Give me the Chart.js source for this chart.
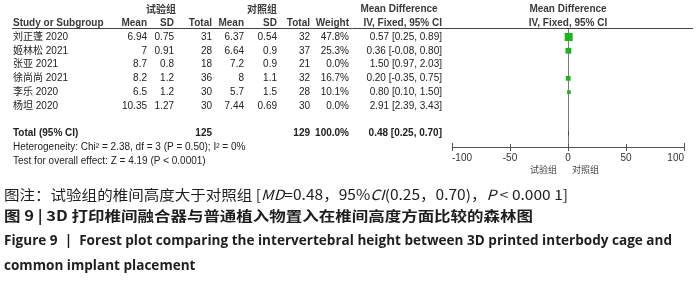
<!DOCTYPE html>
<html><head><meta charset="utf-8">
<script src="https://cdn.jsdelivr.net/npm/chart.js@4/dist/chart.umd.min.js"></script>
<style>html,body{margin:0;padding:0;background:#fff;}canvas{display:block}</style>
</head><body>
<canvas id="c" width="700" height="284"></canvas>
<script>
// ---- data ----
const studies   = ['刘正蓬 2020','姬林松 2021','张亚 2021','徐尚尚 2021','李乐 2020','杨坦 2020'];
const expMean   = [6.94, 7, 8.7, 8.2, 6.5, 10.35];
const expSD     = [0.75, 0.91, 0.8, 1.2, 1.2, 1.27];
const expTotal  = [31, 28, 18, 36, 30, 30];
const ctlMean   = [6.37, 6.64, 7.2, 8, 5.7, 7.44];
const ctlSD     = [0.54, 0.9, 0.9, 1.1, 1.5, 0.69];
const ctlTotal  = [32, 37, 21, 32, 28, 30];
const weight    = [47.8, 25.3, 0.0, 16.7, 10.1, 0.0];
const md        = [0.57, 0.36, 1.50, 0.20, 0.80, 2.91];
const ciLow     = [0.25, -0.08, 0.97, -0.35, 0.10, 2.39];
const ciHigh    = [0.89, 0.80, 2.03, 0.75, 1.50, 3.43];
const totalExpN = 125, totalCtlN = 129, totalWeight = 100.0;
const totalMD = 0.48, totalLow = 0.25, totalHigh = 0.70;
const groupLabels = ['试验组','对照组'];
const xTicks = [-100, -50, 0, 50, 100];
const heterogeneityText = 'Heterogeneity: Chi² = 2.38, df = 3 (P = 0.50); I² = 0%';
const overallText = 'Test for overall effect: Z = 4.19 (P < 0.0001)';
const captionNote = [['图注：试验组的椎间高度大于对照组 [',''],['MD','italic '],['=0.48，95%',''],['CI','italic '],['(0.25，0.70)，',''],['P','italic '],[' < 0.000 1]','']];
const captionCN = '图 9 | 3D 打印椎间融合器与普通植入物置入在椎间高度方面比较的森林图';
const captionEN1 = 'Figure 9  |  Forest plot comparing the intervertebral height between 3D printed interbody cage and';
const captionEN2 = 'common implant placement';

const GREEN = '#1db41d';
const SANS = '"Liberation Sans", Arial, sans-serif';
const CJK = '"Liberation Sans", "Noto Sans CJK SC", sans-serif';

function fmt2(v){ return v.toFixed(2); }
function ciText(m,l,h){ return fmt2(m)+' ['+fmt2(l)+', '+fmt2(h)+']'; }

const tablePlugin = {
  id: 'forestTable',
  afterDatasetsDraw(chart){
    const ctx = chart.ctx, xs = chart.scales.x, ys = chart.scales.y;
    const Y = v => ys.getPixelForValue(v);
    ctx.save();
    // CI lines (only for studies that carry weight)
    ctx.strokeStyle = GREEN; ctx.lineWidth = 1;
    for (let i=0;i<studies.length;i++){
      if (weight[i] <= 0) continue;
      ctx.beginPath();
      ctx.moveTo(xs.getPixelForValue(ciLow[i]), Y(i)+0.5);
      ctx.lineTo(xs.getPixelForValue(ciHigh[i]), Y(i)+0.5);
      ctx.stroke();
    }
    // diamond
    const ty = Y(studies.length+1);
    ctx.fillStyle = '#000';
    ctx.beginPath();
    ctx.moveTo(xs.getPixelForValue(totalLow), ty);
    ctx.lineTo(xs.getPixelForValue(totalMD), ty-4);
    ctx.lineTo(xs.getPixelForValue(totalHigh), ty);
    ctx.lineTo(xs.getPixelForValue(totalMD), ty+4);
    ctx.closePath(); ctx.fill();
    ctx.restore();
  },
  afterDraw(chart){
    const ctx = chart.ctx, xs = chart.scales.x, ys = chart.scales.y;
    const Y = v => ys.getPixelForValue(v);
    const X0 = xs.getPixelForValue(0);
    ctx.save();
    ctx.textBaseline = 'middle';
    // upward tick parts
    ctx.strokeStyle = '#555'; ctx.lineWidth = 1;
    const ab = chart.chartArea.bottom;
    xTicks.forEach((t,k)=>{
      const px = Math.round(xs.getPixelForValue(t))+0.5;
      const up = (k===0||k===xTicks.length-1) ? 4 : 3;
      ctx.beginPath(); ctx.moveTo(px, ab-up); ctx.lineTo(px, ab); ctx.stroke();
    });
    // header line
    const hy = Math.round(chart.chartArea.top)+0.5;
    ctx.strokeStyle = '#444';
    ctx.beginPath(); ctx.moveTo(12, hy); ctx.lineTo(693, hy); ctx.stroke();

    // headers
    ctx.fillStyle = '#3a3a3a';
    ctx.font = 'bold 10px "Noto Sans CJK SC", sans-serif';
    ctx.textAlign = 'center';
    ctx.fillText(groupLabels[0], 161, Y(-2));
    ctx.fillText(groupLabels[1], 262, Y(-2));
    ctx.font = 'bold 10px '+SANS;
    ctx.fillText('Mean Difference', 399, Y(-2));
    ctx.fillText('Mean Difference', X0, Y(-2));
    ctx.fillText('IV, Fixed, 95% CI', X0, Y(-1));
    ctx.textAlign = 'left';
    ctx.fillText('Study or Subgroup', 13, Y(-1));
    ctx.textAlign = 'right';
    const cols = [147, 174, 212, 244, 277, 310, 349, 442];
    const heads = ['Mean','SD','Total','Mean','SD','Total','Weight','IV, Fixed, 95% CI'];
    heads.forEach((h,k)=>ctx.fillText(h, cols[k], Y(-1)));

    // rows
    ctx.fillStyle = '#222';
    for (let i=0;i<studies.length;i++){
      const y = Y(i);
      ctx.textAlign = 'left';
      ctx.font = '10px '+CJK;
      ctx.fillText(studies[i], 13, y);
      ctx.textAlign = 'right';
      ctx.font = '10px '+SANS;
      const vals = [String(expMean[i]), String(expSD[i]), String(expTotal[i]),
                    String(ctlMean[i]), String(ctlSD[i]), String(ctlTotal[i]),
                    weight[i].toFixed(1)+'%', ciText(md[i],ciLow[i],ciHigh[i])];
      vals.forEach((v,k)=>ctx.fillText(v, cols[k], y));
    }
    // total row
    const ty = Y(studies.length+1);
    ctx.font = 'bold 10px '+SANS;
    ctx.textAlign = 'left';
    ctx.fillText('Total (95% CI)', 13, ty);
    ctx.textAlign = 'right';
    ctx.fillText(String(totalExpN), cols[2], ty);
    ctx.fillText(String(totalCtlN), cols[5], ty);
    ctx.fillText(totalWeight.toFixed(1)+'%', cols[6], ty);
    ctx.fillText(ciText(totalMD,totalLow,totalHigh), cols[7], ty);
    ctx.font = '10px '+SANS;
    ctx.textAlign = 'left';
    ctx.fillText(heterogeneityText, 13, Y(studies.length+2));
    ctx.fillText(overallText, 13, Y(studies.length+3));

    // axis side labels
    ctx.fillStyle = '#444';
    ctx.font = '9px "Noto Sans CJK SC", sans-serif';
    ctx.textAlign = 'right';
    ctx.fillText(groupLabels[0], X0-11, 170);
    ctx.textAlign = 'left';
    ctx.fillText(groupLabels[1], X0+4, 170);

    // captions
    ctx.fillStyle = '#1e1e1e';
    ctx.textAlign = 'left';
    function drawFit(segs, x, y, target, size, weightStr, family){
      let total = 0;
      segs.forEach(s=>{ ctx.font = s[1]+weightStr+size+'px '+family; total += ctx.measureText(s[0]).width; });
      const sx = target/total;
      ctx.save(); ctx.translate(x,y); ctx.scale(sx,1);
      let cx = 0;
      segs.forEach(s=>{ ctx.font = s[1]+weightStr+size+'px '+family; ctx.fillText(s[0], cx, 0); cx += ctx.measureText(s[0]).width; });
      ctx.restore();
      return sx;
    }
    const cjkFam = '"Noto Sans CJK SC", sans-serif';
    drawFit(captionNote, 4, 195, 564, 14, '', cjkFam);
    drawFit([[captionCN,'']], 4, 216, 529, 14, 'bold ', cjkFam);
    const sx = drawFit([[captionEN1,'']], 4, 241, 668, 13.5, 'bold ', '"Open Sans", sans-serif');
    ctx.save(); ctx.translate(4,266); ctx.scale(sx,1);
    ctx.font = 'bold 13.5px "Open Sans", sans-serif';
    ctx.fillText(captionEN2, 0, 0);
    ctx.restore();
    ctx.restore();
  }
};

const points = studies.map((s,i)=>({x: md[i], y: i}));

new Chart(document.getElementById('c'), {
  type: 'scatter',
  data: { datasets: [{
    data: points,
    pointStyle: 'rect',
    backgroundColor: GREEN,
    borderWidth: 0,
    pointRadius: c => 0.82*Math.sqrt(weight[c.dataIndex]),
    pointHoverRadius: c => 0.82*Math.sqrt(weight[c.dataIndex])
  }]},
  options: {
    responsive: false, animation: false, devicePixelRatio: 1,
    layout: { padding: { left: 452, right: 16, top: 28, bottom: 117 } },
    plugins: { legend: { display: false }, tooltip: { enabled: false } },
    scales: {
      x: {
        type: 'linear', min: -100, max: 100,
        afterBuildTicks: s => { s.ticks = xTicks.map(v=>({value:v})); },
        afterFit: s => { s.height = 20; },
        border: { display: true, color: '#555', width: 1 },
        grid: {
          drawOnChartArea: true, drawTicks: true, tickLength: 4,
          color: c => (c.tick && c.tick.value === 0) ? '#7a7a7a' : 'rgba(0,0,0,0)',
          tickColor: '#555'
        },
        ticks: { color: '#333', padding: 1, align: 'inner', font: { size: 10, family: SANS }, maxRotation: 0, autoSkip: false }
      },
      y: { type: 'linear', min: -0.65, max: 7.97, reverse: true, display: false }
    }
  },
  plugins: [tablePlugin]
});
</script>
</body></html>
